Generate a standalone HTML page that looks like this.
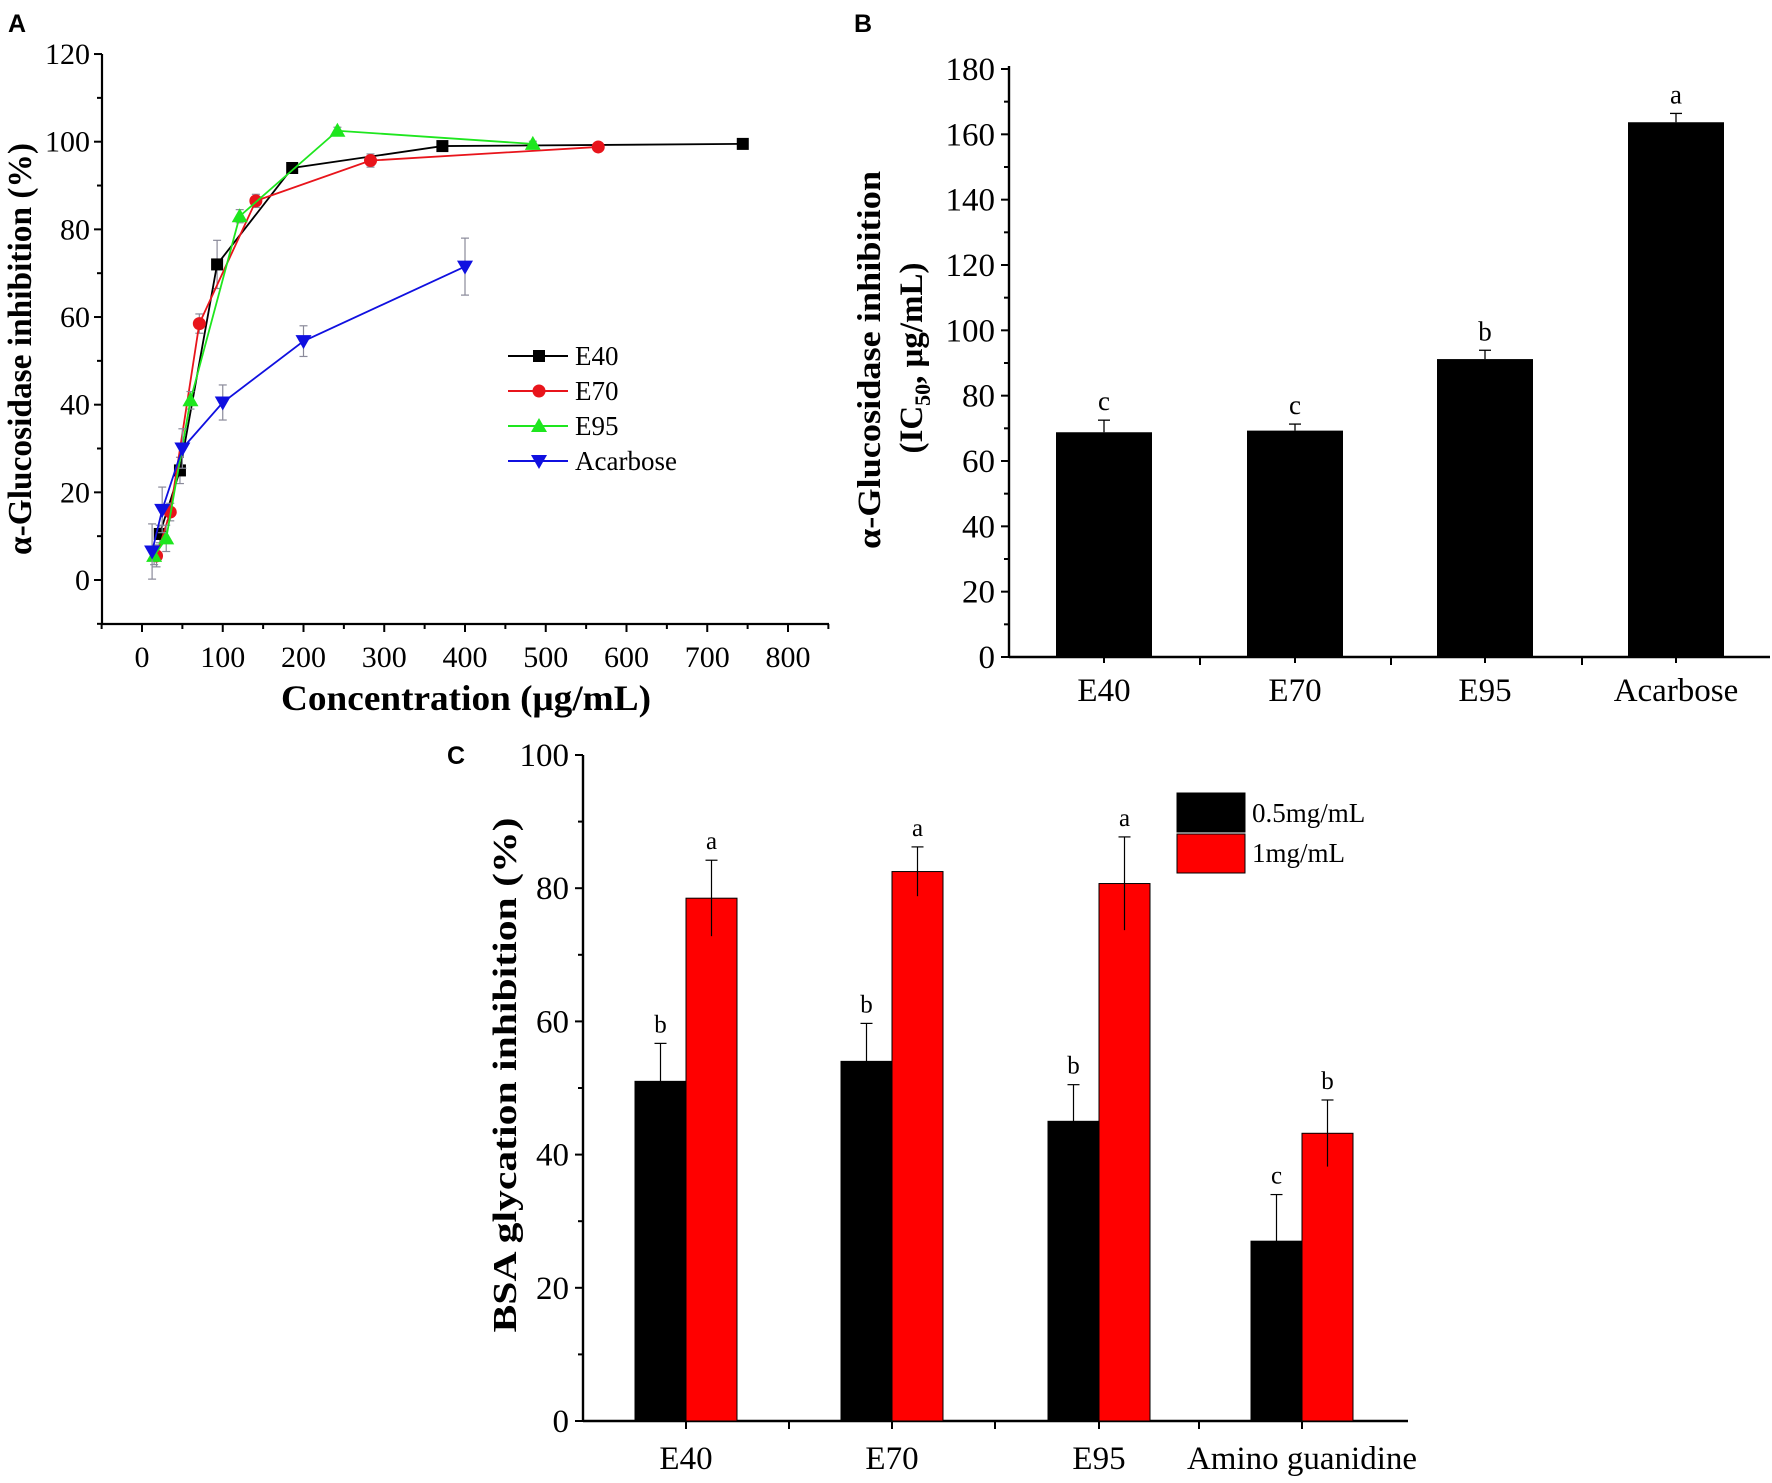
<!DOCTYPE html>
<html><head><meta charset="utf-8"><style>
html,body{margin:0;padding:0;background:#fff;}
svg{display:block;font-family:"Liberation Serif",serif;}
svg text{font-family:"Liberation Serif",serif;}
svg text.sans{font-family:"Liberation Sans",sans-serif;}
</style></head><body>
<svg id="fig" width="1772" height="1483" viewBox="0 0 1772 1483" xmlns="http://www.w3.org/2000/svg">
<text class="sans" x="8" y="32" font-family="Liberation Sans, sans-serif" font-weight="bold" font-size="25">A</text>
<text class="sans" x="854" y="32" font-family="Liberation Sans, sans-serif" font-weight="bold" font-size="25">B</text>
<text class="sans" x="447" y="764" font-family="Liberation Sans, sans-serif" font-weight="bold" font-size="25">C</text>
<g id="pa"></g>
<g id="pb"></g>
<g id="pc"></g>
</svg>
<script>
// ---- Panel A data ----
const aSeriesNames = ["E40","E70","E95","Acarbose"];
const aE40x = [22,47,93,186,372,744];
const aE40y = [10.5,25,72,94,99,99.5];
const aE40e = [2,3,5.5,1,0.8,0.5];
const aE70x = [18,35,71,141,283,565];
const aE70y = [5.5,15.5,58.5,86.5,95.7,98.8];
const aE70e = [2.5,2,2.2,1.5,1.5,0.6];
const aE95x = [15,30,60,121,242,484];
const aE95y = [5.5,9.5,41,83,102.5,99.5];
const aE95e = [2,3,2,1.5,0.8,0.6];
const aAcx = [12.5,25,50,100,200,400];
const aAcy = [6.5,16,30,40.5,54.5,71.5];
const aAce = [6.3,5.2,4.5,4,3.5,6.5];
const aXTicks = [0,100,200,300,400,500,600,700,800];
const aYTicks = [0,20,40,60,80,100,120];
// ---- Panel B data ----
const bCats = ["E40","E70","E95","Acarbose"];
const bVals = [68.8,69.3,91.2,163.7];
const bErrs = [3.7,2,2.7,2.7];
const bLetters = ["c","c","b","a"];
const bYTicks = [0,20,40,60,80,100,120,140,160,180];
// ---- Panel C data ----
const cCats = ["E40","E70","E95","Amino guanidine"];
const cLow = [51,54,45,27];
const cLowErr = [5.7,5.7,5.5,7];
const cHigh = [78.5,82.5,80.7,43.2];
const cHighErr = [5.7,3.7,7,5];
const cLowLetters = ["b","b","b","c"];
const cHighLetters = ["a","a","a","b"];
const cYTicks = [0,20,40,60,80,100];

const NS="http://www.w3.org/2000/svg";
function mk(parent,tag,attrs,text){const e=document.createElementNS(NS,tag);
 if(tag==='text')e.setAttribute('font-family','Liberation Serif, serif');
 for(const k in attrs)e.setAttribute(k,attrs[k]);if(text!==undefined)e.textContent=text;parent.appendChild(e);return e;}

// ================= Panel A =================
(function(){
const g=document.getElementById('pa');
const X=v=>142+v*0.8075, Y=v=>580-v*4.383;
const left=102,right=829,top=54,bottom=624;
let e;
e=mk(g,'line',{x1:left,y1:top,x2:left,y2:bottom,stroke:'#000','stroke-width':2.2});

e=mk(g,'line',{x1:left,y1:bottom,x2:right,y2:bottom,stroke:'#000','stroke-width':2.2});

for(let v=-10;v<=120;v+=10){const maj=v%20===0;mk(g,'line',{x1:left-(maj?8:5),y1:Y(v),x2:left,y2:Y(v),stroke:'#000','stroke-width':2});}
aYTicks.forEach(v=>{e=mk(g,'text',{x:left-12,y:Y(v)+10,'text-anchor':'end','font-size':30},String(v));
});
for(let v=-50;v<=850;v+=50){const maj=v%100===0;mk(g,'line',{x1:X(v),y1:bottom,x2:X(v),y2:bottom+(maj?8:5),stroke:'#000','stroke-width':2});}
aXTicks.forEach(v=>{e=mk(g,'text',{x:X(v),y:667,'text-anchor':'middle','font-size':30},String(v));
});
e=mk(g,'text',{x:466,y:710,'text-anchor':'middle','font-size':36,'font-weight':'bold',textLength:370,lengthAdjust:'spacingAndGlyphs'},'Concentration (μg/mL)');

e=mk(g,'text',{x:0,y:0,'text-anchor':'middle','font-size':34,'font-weight':'bold',transform:'translate(31,349) rotate(-90)',textLength:412,lengthAdjust:'spacingAndGlyphs'},'α-Glucosidase inhibition (%)');

const series=[[aE40x,aE40y,aE40e,'#000','sq'],[aE70x,aE70y,aE70e,'#e8141b','ci'],[aE95x,aE95y,aE95e,'#1ee61e','tu'],[aAcx,aAcy,aAce,'#1010e0','td']];
function marker(p,t,x,y,c){
 if(t==='sq')return mk(p,'rect',{x:x-6,y:y-6,width:12,height:12,fill:c});
 if(t==='ci')return mk(p,'circle',{cx:x,cy:y,r:6.5,fill:c});
 if(t==='tu')return mk(p,'polygon',{points:`${x},${y-8} ${x-8},${y+6} ${x+8},${y+6}`,fill:c});
 return mk(p,'polygon',{points:`${x},${y+8} ${x-8},${y-6} ${x+8},${y-6}`,fill:c});
}
series.forEach((s,i)=>{
 const sg=mk(g,'g',{});
 
 
 s[0].forEach((x,j)=>{const px=X(x),y1=Y(s[1][j]+s[2][j]),y2=Y(s[1][j]-s[2][j]);
  mk(sg,'line',{x1:px,y1:y1,x2:px,y2:y2,stroke:'#8a8a9a','stroke-width':1.2});
  mk(sg,'line',{x1:px-4,y1:y1,x2:px+4,y2:y1,stroke:'#8a8a9a','stroke-width':1.2});
  mk(sg,'line',{x1:px-4,y1:y2,x2:px+4,y2:y2,stroke:'#8a8a9a','stroke-width':1.2});});
 const pts=s[0].map((x,j)=>X(x)+','+Y(s[1][j])).join(' ');
 const l=mk(sg,'polyline',{points:pts,fill:'none',stroke:s[3],'stroke-width':1.8});
 
 
 s[0].forEach((x,j)=>{const m=marker(sg,s[4],X(x),Y(s[1][j]),s[3]);
  
  });
});
const ly=[356,391,426,461];
series.forEach((s,i)=>{
 const lg=mk(g,'g',{});
 
 
 mk(lg,'line',{x1:508,y1:ly[i],x2:568,y2:ly[i],stroke:s[3],'stroke-width':2});
 marker(lg,s[4],539,ly[i],s[3]);
 mk(lg,'text',{x:575,y:ly[i]+9,'font-size':27},aSeriesNames[i]);
});
})();

// ================= Panel B =================
(function(){
const g=document.getElementById('pb');
const Y=v=>657-v*3.2667;
const left=1009,right=1770,top=66,bottom=657;
const centers=[1104,1295,1485,1676], bw=96;
let e;
e=mk(g,'line',{x1:left,y1:top,x2:left,y2:bottom,stroke:'#000','stroke-width':2.4});

e=mk(g,'line',{x1:left,y1:bottom,x2:right,y2:bottom,stroke:'#000','stroke-width':2.4});

for(let v=0;v<=180;v+=10){const maj=v%20===0;mk(g,'line',{x1:left-(maj?8:5),y1:Y(v),x2:left,y2:Y(v),stroke:'#000','stroke-width':2});}
bYTicks.forEach(v=>{e=mk(g,'text',{x:left-14,y:Y(v)+11,'text-anchor':'end','font-size':33},String(v));
});
[1200,1391,1582].forEach(x=>mk(g,'line',{x1:x,y1:bottom,x2:x,y2:bottom+8,stroke:'#000','stroke-width':2}));
centers.forEach(x=>mk(g,'line',{x1:x,y1:bottom,x2:x,y2:bottom+6,stroke:'#000','stroke-width':2}));
bCats.forEach((c,i)=>{const cx=centers[i];
 e=mk(g,'rect',{x:cx-bw/2,y:Y(bVals[i]),width:bw,height:Y(0)-Y(bVals[i]),fill:'#000'});
 
 const t=Y(bVals[i]+bErrs[i]);
 mk(g,'line',{x1:cx,y1:t,x2:cx,y2:Y(bVals[i]),stroke:'#000','stroke-width':1.3});
 mk(g,'line',{x1:cx-6,y1:t,x2:cx+6,y2:t,stroke:'#000','stroke-width':1.3});
 e=mk(g,'text',{x:cx,y:t-10,'text-anchor':'middle','font-size':27},bLetters[i]);
 
 e=mk(g,'text',{x:cx,y:701,'text-anchor':'middle','font-size':33},c);
 
});
e=mk(g,'text',{x:0,y:0,'text-anchor':'middle','font-size':33,'font-weight':'bold',transform:'translate(880,360) rotate(-90)',textLength:378,lengthAdjust:'spacingAndGlyphs'},'α-Glucosidase inhibition');

e=mk(g,'text',{x:0,y:0,'text-anchor':'middle','font-size':33,'font-weight':'bold',transform:'translate(922,358) rotate(-90)'});

mk(e,'tspan',{},'(IC');mk(e,'tspan',{'font-size':22,dy:8},'50');mk(e,'tspan',{dy:-8},', μg/mL)');
})();

// ================= Panel C =================
(function(){
const g=document.getElementById('pc');
const Y=v=>1421-v*6.66;
const left=583,right=1408,top=755,bottom=1421;
const centers=[686,892,1099,1302], bw=51;
let e;
e=mk(g,'line',{x1:left,y1:top,x2:left,y2:bottom,stroke:'#000','stroke-width':2.4});

e=mk(g,'line',{x1:left,y1:bottom,x2:right,y2:bottom,stroke:'#000','stroke-width':2.4});

for(let v=0;v<=100;v+=10){const maj=v%20===0;mk(g,'line',{x1:left-(maj?8:5),y1:Y(v),x2:left,y2:Y(v),stroke:'#000','stroke-width':2});}
cYTicks.forEach(v=>{e=mk(g,'text',{x:left-14,y:Y(v)+11,'text-anchor':'end','font-size':33},String(v));
});
[789,995,1199].forEach(x=>mk(g,'line',{x1:x,y1:bottom,x2:x,y2:bottom+8,stroke:'#000','stroke-width':2}));
centers.forEach(x=>mk(g,'line',{x1:x,y1:bottom,x2:x,y2:bottom+8,stroke:'#000','stroke-width':2}));
function bar(cx,v,err,fill,letter,name){
 e=mk(g,'rect',{x:cx-bw/2,y:Y(v),width:bw,height:Y(0)-Y(v),fill:fill,stroke:'#000','stroke-width':1});
 
 const t=Y(v+err),b=Y(v-err);
 mk(g,'line',{x1:cx,y1:t,x2:cx,y2:b,stroke:'#000','stroke-width':1.2});
 mk(g,'line',{x1:cx-6,y1:t,x2:cx+6,y2:t,stroke:'#000','stroke-width':1.2});
 e=mk(g,'text',{x:cx,y:t-11,'text-anchor':'middle','font-size':25},letter);
 
}
cCats.forEach((c,i)=>{
 bar(centers[i]-bw/2,cLow[i],cLowErr[i],'#000',cLowLetters[i],'c-bar-low');
 bar(centers[i]+bw/2,cHigh[i],cHighErr[i],'#ff0000',cHighLetters[i],'c-bar-high');
 e=mk(g,'text',{x:centers[i],y:1469,'text-anchor':'middle','font-size':33},c);
 
});
e=mk(g,'text',{x:0,y:0,'text-anchor':'middle','font-size':34,'font-weight':'bold',transform:'translate(516,1075) rotate(-90)',textLength:515,lengthAdjust:'spacingAndGlyphs'},'BSA glycation inhibition (%)');

const lg1=mk(g,'g',{});


mk(lg1,'rect',{x:1177,y:793,width:68,height:39,fill:'#000',stroke:'#000','stroke-width':1});
mk(lg1,'text',{x:1252,y:822,'font-size':27},'0.5mg/mL');
const lg2=mk(g,'g',{});


mk(lg2,'rect',{x:1177,y:834,width:68,height:39,fill:'#ff0000',stroke:'#000','stroke-width':1});
mk(lg2,'text',{x:1252,y:862,'font-size':27},'1mg/mL');
})();
</script>
</body></html>
